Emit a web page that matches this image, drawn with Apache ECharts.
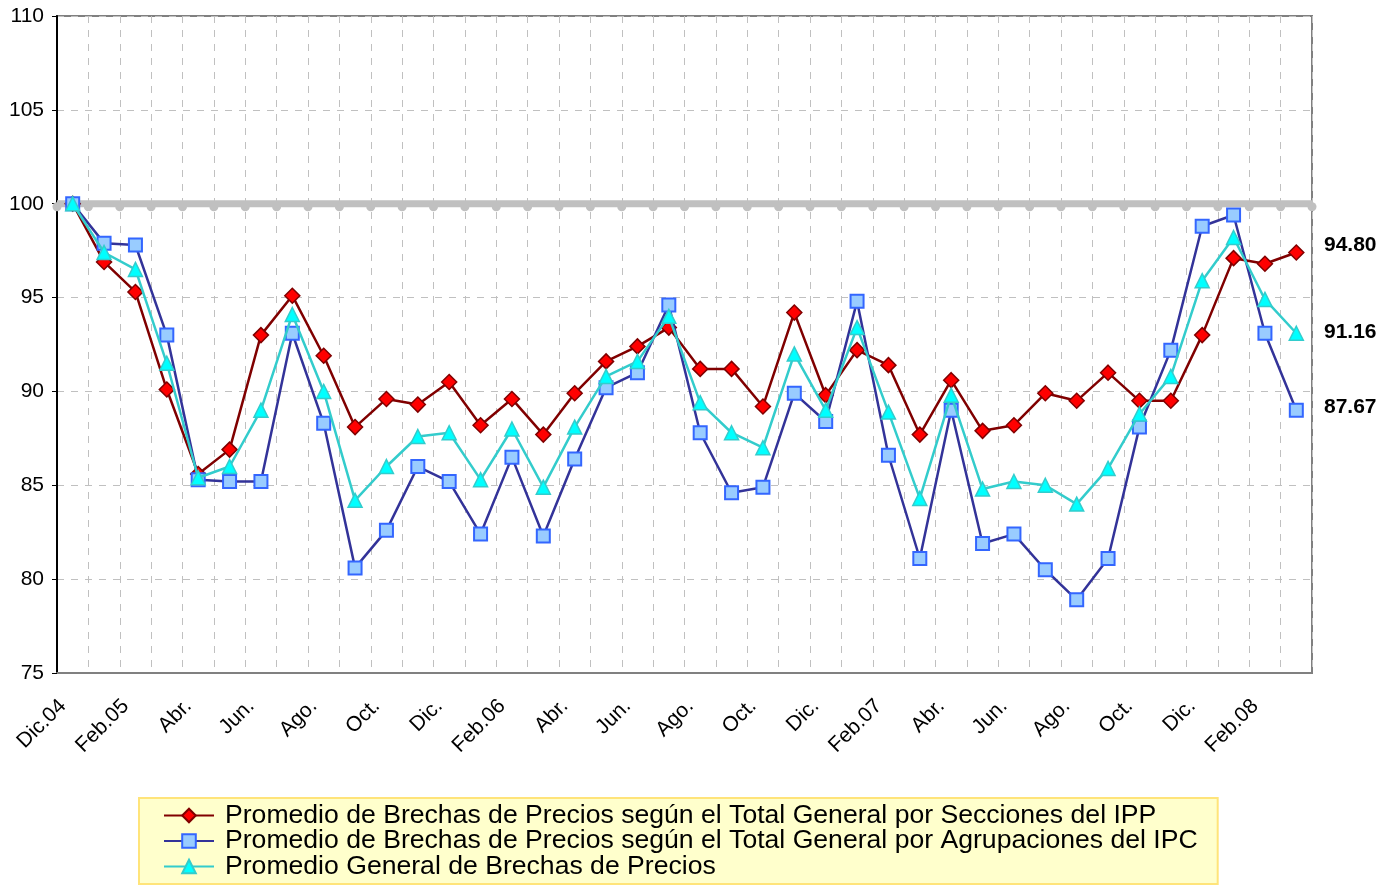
<!DOCTYPE html>
<html>
<head>
<meta charset="utf-8">
<script src="https://cdn.jsdelivr.net/npm/echarts@6/dist/echarts.min.js"></script>
<style>
  html, body { margin: 0; padding: 0; background: #fff; }
  #chart { width: 1396px; height: 885px; }
</style>
</head>
<body>
<div id="chart"></div>
<script>
// months, Dic.04 .. Mar.08 (only every other one is labelled)
var months = [
  "Dic.04", "Ene.05", "Feb.05", "Mar.", "Abr.", "May.", "Jun.", "Jul.", "Ago.", "Sep.", "Oct.", "Nov.", "Dic.",
  "Ene.06", "Feb.06", "Mar.", "Abr.", "May.", "Jun.", "Jul.", "Ago.", "Sep.", "Oct.", "Nov.", "Dic.",
  "Ene.07", "Feb.07", "Mar.", "Abr.", "May.", "Jun.", "Jul.", "Ago.", "Sep.", "Oct.", "Nov.", "Dic.",
  "Ene.08", "Feb.08", "Mar.08"
];

var seccionesIPP = [
  100, 96.9, 95.3, 90.1, 85.6, 86.9, 93.0, 95.1, 91.9, 88.1,
  89.6, 89.3, 90.5, 88.2, 89.6, 87.7, 89.9, 91.6, 92.4, 93.4,
  91.2, 91.2, 89.2, 94.2, 89.8, 92.2, 91.4, 87.7, 90.6, 87.9,
  88.2, 89.9, 89.5, 91.0, 89.5, 89.5, 93.0, 97.1, 96.8, 97.4
];

var agrupacionesIPC = [
  100, 97.9, 97.8, 93.0, 85.3, 85.2, 85.2, 93.1, 88.3, 80.6,
  82.6, 86.0, 85.2, 82.4, 86.5, 82.3, 86.4, 90.2, 91.0, 94.6,
  87.8, 84.6, 84.9, 89.9, 88.4, 94.8, 86.6, 81.1, 89.0, 81.9,
  82.4, 80.5, 78.9, 81.1, 88.1, 92.2, 98.8, 99.4, 93.1, 89.0
];

var promedioGeneral = [
  100, 97.4, 96.5, 91.5, 85.4, 86.0, 89.0, 94.1, 90.0, 84.2,
  86.0, 87.6, 87.8, 85.3, 88.0, 84.9, 88.1, 90.8, 91.6, 94.0,
  89.4, 87.8, 87.0, 92.0, 89.0, 93.4, 88.9, 84.3, 89.8, 84.8,
  85.2, 85.0, 84.0, 85.9, 88.8, 90.8, 95.9, 98.2, 94.9, 93.1
];

// reference line at 100, drawn edge to edge
var baseline = [];
for (var i = 0; i <= months.length; i++) baseline.push(100);

var averages = ["94.80", "91.16", "87.67"];

var seriesNames = [
  "Promedio de Brechas de Precios según el Total General por Secciones del IPP",
  "Promedio de Brechas de Precios según el Total General por Agrupaciones del IPC",
  "Promedio General de Brechas de Precios"
];

var chart = echarts.init(document.getElementById('chart'));

chart.setOption({
  animation: false,
  textStyle: { fontFamily: 'Liberation Sans, Arial, sans-serif' },
  grid: {
    left: 57, top: 16, right: 84, bottom: 212,
    show: true, borderColor: '#808080', borderWidth: 2,
    containLabel: false
  },
  xAxis: [{
    type: 'category',
    data: months,
    boundaryGap: true,
    axisLine: { lineStyle: { color: '#808080', width: 2 } },
    axisTick: { inside: true, interval: 0, length: 6, lineStyle: { color: '#808080' } },
    axisLabel: {
      interval: 1, rotate: 45, color: '#000', fontSize: 21, margin: 20,
      padding: [0, 14, 0, 0]
    },
    splitLine: { show: true, interval: 0, lineStyle: { color: '#c0c0c0', type: [7, 7] } }
  }, {
    type: 'category',
    data: baseline.map(function (v, i) { return i; }),
    boundaryGap: false,
    show: false
  }],
  yAxis: {
    type: 'value',
    min: 75, max: 110, interval: 5,
    axisLine: { show: true, lineStyle: { color: '#000', width: 2 } },
    axisTick: { show: true, length: 5, lineStyle: { color: '#000' } },
    axisLabel: { color: '#000', fontSize: 21, margin: 13 },
    splitLine: { lineStyle: { color: '#c0c0c0', type: [7, 7] } }
  },
  legend: {
    orient: 'vertical',
    left: 139, top: 798,
    height: 90,
    padding: [4, 20, 4, 24],
    itemGap: -1.5,
    itemWidth: 50, itemHeight: 17,
    backgroundColor: '#ffffcc',
    borderColor: '#ffe47a', borderWidth: 2,
    textStyle: { color: '#000', fontSize: 26.6, lineHeight: 25, padding: [0, 0, 0, 6] },
    data: seriesNames
  },
  series: [{
    name: 'base',
    type: 'line',
    xAxisIndex: 1,
    data: baseline,
    symbol: 'circle',
    symbolSize: 9,
    symbolOffset: [0, 3],
    showAllSymbol: true,
    lineStyle: { color: '#c0c0c0', width: 7 },
    itemStyle: { color: '#c0c0c0' },
    z: 1
  }, {
    name: seriesNames[0],
    type: 'line',
    data: seccionesIPP,
    symbol: 'diamond',
    symbolSize: 15,
    lineStyle: { color: '#800000', width: 2.5 },
    itemStyle: { color: '#ff0000', borderColor: '#800000', borderWidth: 1.5 },
    z: 3
  }, {
    name: seriesNames[1],
    type: 'line',
    data: agrupacionesIPC,
    symbol: 'rect',
    symbolSize: 13,
    lineStyle: { color: '#333399', width: 2.5 },
    itemStyle: { color: '#99ccff', borderColor: '#3366ff', borderWidth: 2 },
    z: 4
  }, {
    name: seriesNames[2],
    type: 'line',
    data: promedioGeneral,
    symbol: 'triangle',
    symbolSize: 14,
    lineStyle: { color: '#33cccc', width: 2.5 },
    itemStyle: { color: '#00ffff', borderColor: '#33cccc', borderWidth: 1.5 },
    z: 5
  }],
  graphic: averages.map(function (t, i) {
    return {
      type: 'text',
      left: 1324,
      top: [235, 322, 397][i],
      style: { text: t, font: 'bold 21px "Liberation Sans", Arial, sans-serif', fill: '#000' }
    };
  })
});

window.addEventListener('resize', function () {
  chart.resize();
});
</script>
</body>
</html>
